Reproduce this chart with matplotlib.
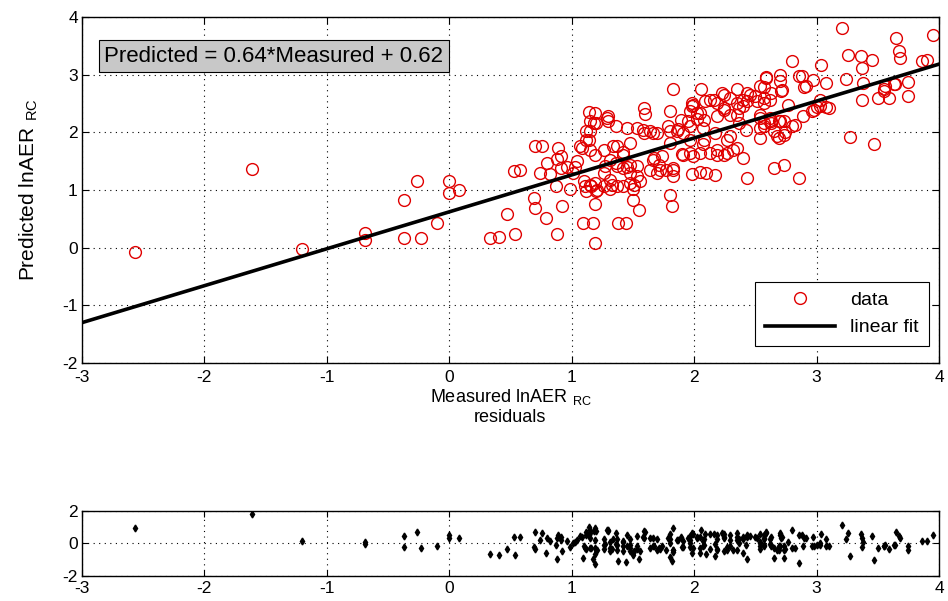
import numpy as np
import matplotlib
matplotlib.use("Agg")
import matplotlib.pyplot as plt

plt.rcParams['font.family'] = ['Liberation Sans', 'DejaVu Sans']
plt.rcParams['axes.unicode_minus'] = False

# fit reported on the chart
slope = 0.64
intercept = 0.62

# measured lnAER_RC (x) and predicted lnAER_RC (y)
measured = [
    -2.57, -1.61, -1.20, -0.69, -0.69, -0.37, -0.37, -0.26, -0.23, -0.10, 0.00, 0.00, 0.08,
    0.33, 0.41, 0.47, 0.54, 0.53, 0.58, 0.69, 0.70, 0.79, 0.92, 0.88, 0.87, 0.70, 0.76,
    0.89, 0.91, 0.80, 0.74, 0.82, 0.91, 0.88, 0.96, 0.99, 1.04, 1.03, 1.01,
    1.14, 1.18, 1.14, 1.08, 1.29, 1.30, 1.20, 1.12, 1.12, 1.07, 1.19, 1.31, 1.26, 1.37,
    1.42, 1.37, 1.42, 1.48, 1.48, 1.26, 1.31, 1.37, 1.26, 1.15, 1.10, 1.12, 1.20, 1.42,
    1.11, 1.16, 1.19, 1.09, 1.17, 1.19, 1.38, 1.44, 1.50, 1.50, 1.56, 1.55, 1.45, 1.53,
    1.30, 1.36, 1.19, 1.15, 1.15, 1.27, 1.36, 1.45, 1.53, 1.19, 1.33, 1.48, 1.21, 1.31,
    1.51, 1.53, 1.15, 1.34, 1.42, 1.48,
    1.59, 1.60, 1.80, 1.83, 1.79, 1.89, 1.86, 1.91, 1.97, 2.02, 2.08, 1.98, 1.98, 2.05,
    1.95, 2.02, 2.07, 1.70, 1.64, 1.59, 1.58, 1.66, 1.80, 1.87, 1.80, 1.74, 1.67, 1.64,
    1.72, 1.83, 1.83, 1.70, 1.80, 1.82, 1.66, 1.71, 1.77, 1.83, 1.90, 1.99, 1.91, 1.97,
    2.05, 1.97, 2.08, 2.07, 2.13, 1.98, 2.05, 2.10, 2.17, 1.97, 1.99, 2.09, 2.16, 2.06,
    2.19, 2.24, 2.29, 2.35, 2.40, 2.17, 2.27, 2.32, 2.40, 2.19, 2.24, 2.43, 2.24, 2.13,
    2.24, 2.35, 2.19, 2.29, 2.35, 2.27, 2.19, 2.23, 2.29, 2.40, 2.43, 2.35, 2.50, 2.37,
    2.42, 2.37, 2.46, 2.43, 2.51, 2.54, 2.54,
    2.57, 2.59, 2.70, 2.70, 2.72, 2.62, 2.57, 2.63, 2.73, 2.57, 2.74, 2.73, 2.68, 2.73,
    2.65, 2.86, 2.80, 2.89, 2.86, 2.90, 2.97, 2.80, 2.88, 2.91, 2.54, 2.59, 2.54, 2.62,
    2.69, 2.54, 2.65, 2.71, 2.63, 2.57, 2.77, 2.82, 2.70, 2.63, 2.57, 2.96, 2.69,
    3.00, 3.08, 3.03, 3.10, 3.03, 2.98, 3.04, 3.08, 3.21, 3.26, 3.36, 3.45, 3.37, 3.24,
    3.38, 3.56, 3.64, 3.75, 3.50, 3.59, 3.55, 3.37, 3.27, 3.47, 3.65, 3.95, 3.67, 3.68,
    3.86, 3.90, 3.63, 3.75, 3.55,
]
predicted = [
    -0.07, 1.37, -0.02, 0.25, 0.14, 0.82, 0.17, 1.15, 0.17, 0.42, 1.15, 0.95, 0.99,
    0.16, 0.18, 0.59, 0.23, 1.32, 1.35, 0.86, 0.69, 0.51, 0.72, 0.23, 1.07, 1.76, 1.76,
    1.73, 1.59, 1.47, 1.30, 1.27, 1.38, 1.54, 1.39, 1.01, 1.50, 1.39, 1.30,
    2.35, 2.16, 1.86, 1.73, 2.25, 2.19, 2.16, 2.02, 1.87, 1.76, 1.61, 1.52, 1.70, 1.76,
    1.61, 1.41, 1.38, 1.44, 1.30, 1.30, 1.18, 1.06, 1.06, 1.09, 1.15, 0.98, 0.98, 1.06,
    1.07, 1.07, 0.75, 0.42, 0.42, 0.08, 0.43, 0.42, 0.83, 1.01, 1.15, 0.66, 2.08, 2.08,
    2.28, 2.10, 2.33, 2.02, 2.19, 1.41, 1.47, 1.39, 1.41, 1.12, 1.09, 1.12, 0.99, 1.01,
    1.09, 1.24, 1.70, 1.76, 1.65, 1.82,
    2.42, 2.31, 2.36, 2.75, 2.10, 2.22, 2.02, 1.99, 2.10, 2.33, 2.22, 2.45, 2.51, 2.34,
    2.20, 2.23, 2.08, 1.99, 2.02, 1.99, 2.04, 1.99, 2.02, 2.05, 1.82, 1.58, 1.55, 1.35,
    1.35, 1.35, 1.24, 1.30, 0.92, 0.72, 1.52, 1.44, 1.35, 1.38, 1.62, 1.59, 1.61, 1.64,
    1.64, 1.87, 1.87, 1.79, 1.64, 1.27, 1.31, 1.30, 1.25, 2.36, 2.48, 2.54, 2.56, 2.75,
    2.51, 2.39, 2.30, 2.51, 2.45, 1.99, 1.87, 1.70, 1.56, 1.70, 1.60, 1.21, 2.65, 2.56,
    2.42, 2.30, 2.28, 1.94, 1.73, 1.64, 1.61, 2.68, 2.59, 2.56, 2.68, 2.75, 2.62, 2.42,
    2.04, 2.16, 2.65, 2.54, 2.54, 2.25, 1.90,
    2.78, 2.96, 3.00, 2.88, 2.74, 2.56, 2.51, 2.16, 2.20, 2.10, 2.00, 1.96, 1.93, 1.44,
    1.38, 1.21, 2.11, 2.28, 2.97, 2.78, 2.91, 3.23, 2.97, 2.80, 2.80, 2.94, 2.30, 2.25,
    2.19, 2.07, 2.02, 2.71, 2.68, 2.59, 2.48, 2.13, 2.19, 2.19, 2.16, 2.36, 1.90,
    2.43, 2.44, 2.56, 2.42, 2.45, 2.39, 3.16, 2.85, 3.81, 3.34, 3.32, 3.26, 3.11, 2.93,
    2.86, 2.80, 2.83, 2.87, 2.59, 2.59, 2.71, 2.55, 1.92, 1.80, 3.63, 3.69, 3.40, 3.29,
    3.23, 3.26, 2.84, 2.62, 2.75,
]

measured = np.array(measured)
predicted = np.array(predicted)
residuals = predicted - (slope * measured + intercept)

fig = plt.figure(figsize=(9.48, 6.01), dpi=100)
ax = fig.add_axes([0.0865, 0.396, 0.904, 0.576])
ax2 = fig.add_axes([0.0865, 0.042, 0.904, 0.108])

ax.plot(measured, predicted, 'o', mfc='none', mec='#e00000', ms=8.5, mew=1.0, label='data')
xfit = np.array([-3, 4])
ax.plot(xfit, slope * xfit + intercept, 'k-', lw=2.6, label='linear fit')

ax.set_xlim(-3, 4)
ax.set_ylim(-2, 4)
ax.set_xticks(range(-3, 5))
ax.set_yticks(range(-2, 5))
ax.grid(True, color='black', linestyle=(0, (1, 4)), linewidth=0.8)
ax.tick_params(direction='in', top=True, right=True, labelsize=12.5, length=5)
ax.tick_params(axis='x', pad=5)
ax.tick_params(axis='y', pad=3)
ax.set_xlabel('Measured lnAER$\\ _\\mathregular{RC}$', fontsize=13, va='top')
ax.xaxis.set_label_coords(0.5, -0.068)
ax.set_ylabel('Predicted lnAER$\\ _\\mathregular{RC}$', fontsize=15, labelpad=16)

ax.text(0.026, 0.886, 'Predicted = 0.64*Measured + 0.62', transform=ax.transAxes,
        ha='left', va='center', fontsize=16,
        bbox=dict(boxstyle='square,pad=0.25', facecolor='#c8c8c8', edgecolor='black', lw=0.8))

leg = ax.legend(loc='lower right', bbox_to_anchor=(0.988, 0.049), borderaxespad=0,
                fancybox=False, edgecolor='black', fontsize=14, handlelength=3.6,
                framealpha=1, borderpad=0.5, labelspacing=0.5)
leg.get_frame().set_linewidth(0.8)

fig.text(0.538, 1 - 418 / 601, 'residuals', ha='center', va='center', fontsize=13)

ax2.plot(measured, residuals, 'kd', ms=3.5)
ax2.set_xlim(-3, 4)
ax2.set_ylim(-2, 2)
ax2.set_xticks(range(-3, 5))
ax2.set_yticks([-2, 0, 2])
ax2.grid(True, color='black', linestyle=(0, (1, 4)), linewidth=0.8)
ax2.tick_params(direction='in', top=True, right=True, labelsize=12.5, length=4)
ax2.tick_params(axis='x', pad=4)
ax2.tick_params(axis='y', pad=3)

for a in (ax, ax2):
    for s in a.spines.values():
        s.set_linewidth(1.0)

fig.savefig('out.png', dpi=100)
